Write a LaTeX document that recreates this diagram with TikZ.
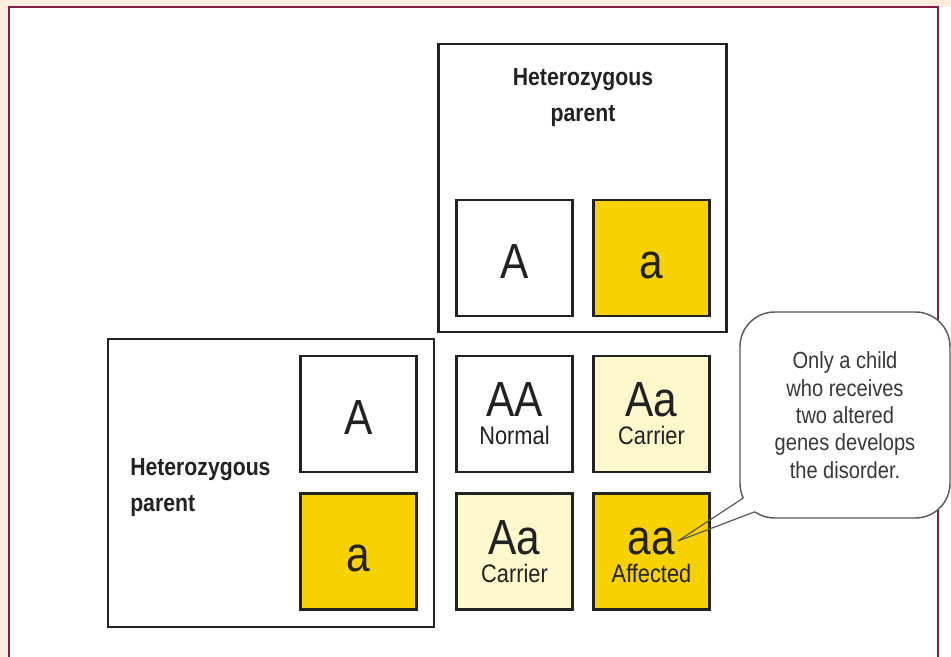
\documentclass[tikz,border=0pt]{standalone}
\usepackage{fontspec}
\setmainfont{Liberation Sans}[FakeStretch=0.86]
\usetikzlibrary{positioning, calc}
\definecolor{pagebeige}{HTML}{FCEEDF}
\definecolor{framewine}{HTML}{7D1E48}
\definecolor{alleleGold}{HTML}{F8D200}
\definecolor{carrierCream}{HTML}{FEF8CC}
\definecolor{inkgrey}{HTML}{222222}
\definecolor{calloutgrey}{HTML}{5A5A5A}
\newcommand{\genefont}{\fontsize{37}{37}\selectfont}

\begin{document}
\begin{tikzpicture}[
    x=0.75pt, y=-0.75pt,
    parentbox/.style={
        draw=inkgrey, line width=2pt, rectangle,
        minimum width=216pt, minimum height=216pt, inner sep=0pt,
    },
    cell/.style={
        draw=inkgrey, line width=2.2pt, rectangle, fill=white,
        minimum size=87pt, inner sep=0pt, text=inkgrey,
        font=\genefont, text height=30pt, text depth=0pt,
    },
    gold/.style={cell, fill=alleleGold},
    cream/.style={cell, fill=carrierCream},
    pair/.style={
        text height=, text depth=, align=center,
        font=\fontsize{19}{21}\selectfont,
    },
    heading/.style={
        font=\fontsize{18.5}{27}\selectfont\bfseries, text=inkgrey,
        inner sep=0pt,
    },
    callout/.style={
        draw=calloutgrey, line width=1.1pt, fill=white,
        rectangle, rounded corners=26pt,
        minimum width=157.5pt, minimum height=154.5pt,
        align=center, text=inkgrey!90,
        font=\fontsize{17.5}{20.5}\selectfont,
    },
    pointer/.style={draw=calloutgrey, line width=0.9pt},
]
\useasboundingbox (0,0) rectangle (951,657);

% Page and frame
\fill[white] (0,0) rectangle (951,657);
\fill[pagebeige] (0,0) rectangle (951,7);
\fill[pagebeige] (0,0) rectangle (9,657);
\draw[framewine, line width=1.6pt] (9,7) rectangle (938,700);

% Parent boxes
\node[parentbox] (topparent) at (582.5,188) {};
\node[parentbox, minimum width=244.5pt] (leftparent) at (271,483) {};
\node[heading, align=center] (topname) at (583,97.5) {Heterozygous\\parent};
\node[heading, align=left, anchor=west] (leftname) at (130,487.5) {Heterozygous\\parent};

% Alleles of the top parent
\node[cell] (topA) at (514.5,258) {A};
\node[gold] (topa) at (651.5,258) {a};

% Alleles of the left parent
\node[cell] (leftA) at (358.5,414) {A};
\node[gold] (lefta) at (358.5,551.5) {a};

% Offspring
\node[cell, pair] (AA) at (514.5,414) {{\genefont AA}\\Normal};
\node[cream, pair] (Aa1) at (651.5,414) {{\genefont Aa}\\Carrier};
\node[cream, pair] (Aa2) at (514.5,551.5) {{\genefont Aa}\\Carrier};
\node[gold, pair] (aa) at (651.5,551.5) {{\genefont\vphantom{A}aa}\\Affected};

% Callout
\node[callout] (note) at (845,415) {Only a child\\who receives\\two altered\\genes develops\\the disorder.};
\coordinate (tip) at (678,541);
\coordinate (ptrA) at (743.3,498);
\coordinate (ptrB) at (755,511.7);
\fill[white] ($(tip)!0.75!(ptrA)$) -- ($(tip)!1.06!(ptrA)$)
    -- ($(tip)!1.06!(ptrB)$) -- ($(tip)!0.75!(ptrB)$) -- cycle;
\draw[pointer] (tip) -- (ptrA);
\draw[pointer] (tip) -- (ptrB);

\end{tikzpicture}
\end{document}
